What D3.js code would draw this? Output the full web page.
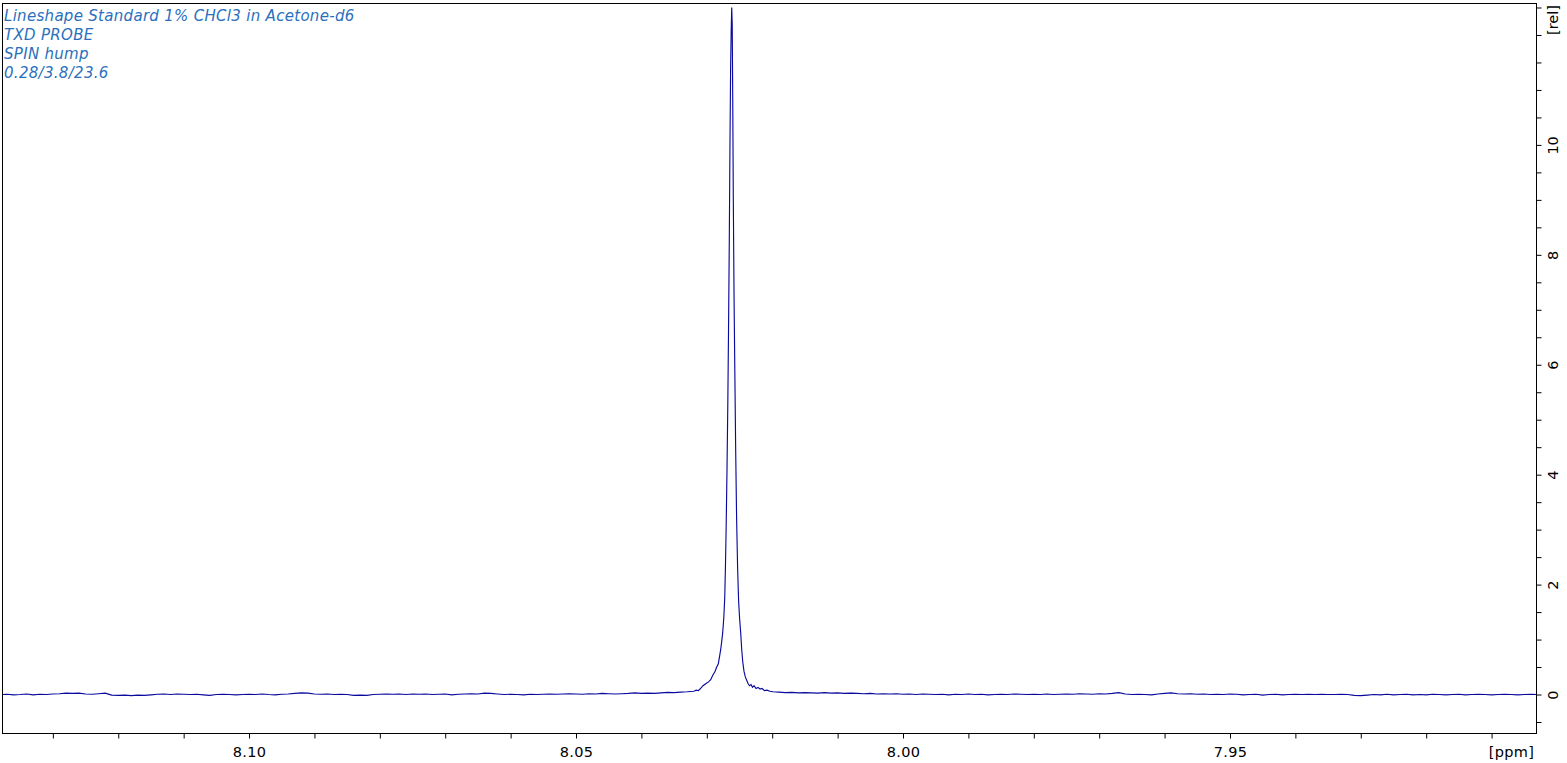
<!DOCTYPE html>
<html>
<head>
<meta charset="utf-8">
<script src="https://cdn.jsdelivr.net/npm/d3@7"></script>
<style>
  html, body { margin: 0; padding: 0; background: #ffffff; }
  svg { display: block; }
</style>
</head>
<body>
<div id="chart"></div>
<script>
// ---------------- data ----------------
const titleLines = [
  "Lineshape Standard 1% CHCl3 in Acetone-d6",
  "TXD PROBE",
  "SPIN hump",
  "0.28/3.8/23.6"
];

// chemical shift (ppm) of each spectrum point
const shift = [
  8.138, 8.137, 8.136, 8.135, 8.134, 8.133, 8.132, 8.131, 8.130, 8.129,
  8.128, 8.127, 8.126, 8.125, 8.124, 8.123, 8.122, 8.121, 8.120, 8.119,
  8.118, 8.117, 8.116, 8.115, 8.114, 8.113, 8.112, 8.111, 8.110, 8.109,
  8.108, 8.107, 8.106, 8.105, 8.104, 8.103, 8.102, 8.101, 8.100, 8.099,
  8.098, 8.097, 8.096, 8.095, 8.094, 8.093, 8.092, 8.091, 8.090, 8.089,
  8.088, 8.087, 8.086, 8.085, 8.084, 8.083, 8.082, 8.081, 8.080, 8.079,
  8.078, 8.077, 8.076, 8.075, 8.074, 8.073, 8.072, 8.071, 8.070, 8.069,
  8.068, 8.067, 8.066, 8.065, 8.064, 8.063, 8.062, 8.061, 8.060, 8.059,
  8.058, 8.057, 8.056, 8.055, 8.054, 8.053, 8.052, 8.051, 8.050, 8.049,
  8.048, 8.047, 8.046, 8.045, 8.044, 8.043, 8.042, 8.041, 8.040, 8.039,
  8.038, 8.037, 8.036, 8.035, 8.034, 8.033, 8.032,
  8.0316, 8.0313, 8.031040, 8.030581, 8.030122, 8.029740, 8.029404, 8.029052,
  8.028746, 8.028486, 8.028242, 8.028043, 8.027875, 8.027707, 8.027569, 8.027401,
  8.027263, 8.027156, 8.027049, 8.026912, 8.026789, 8.026682, 8.026560, 8.026468,
  8.026361, 8.026269, 8.026193, 8.026116, 8.026040, 8.025948, 8.025841, 8.025719,
  8.025581, 8.025444, 8.025291, 8.025138, 8.024985, 8.024817, 8.024664, 8.024511,
  8.024312, 8.024113, 8.023899, 8.023701, 8.023471, 8.023242, 8.023012, 8.022783,
  8.022477, 8.022172, 8.021866, 8.021560, 8.021178, 8.020795, 8.020337, 8.019878,
  8.019, 8.018, 8.017, 8.016, 8.015, 8.014, 8.013, 8.012, 8.011, 8.010,
  8.009, 8.008, 8.007, 8.006, 8.005, 8.004, 8.003, 8.002, 8.001, 8.000,
  7.999, 7.998, 7.997, 7.996, 7.995, 7.994, 7.993, 7.992, 7.991, 7.990,
  7.989, 7.988, 7.987, 7.986, 7.985, 7.984, 7.983, 7.982, 7.981, 7.980,
  7.979, 7.978, 7.977, 7.976, 7.975, 7.974, 7.973, 7.972, 7.971, 7.970,
  7.969, 7.968, 7.967, 7.966, 7.965, 7.964, 7.963, 7.962, 7.961, 7.960,
  7.959, 7.958, 7.957, 7.956, 7.955, 7.954, 7.953, 7.952, 7.951, 7.950,
  7.949, 7.948, 7.947, 7.946, 7.945, 7.944, 7.943, 7.942, 7.941, 7.940,
  7.939, 7.938, 7.937, 7.936, 7.935, 7.934, 7.933, 7.932, 7.931, 7.930,
  7.929, 7.928, 7.927, 7.926, 7.925, 7.924, 7.923, 7.922, 7.921, 7.920,
  7.919, 7.918, 7.917, 7.916, 7.915, 7.914, 7.913, 7.912, 7.911, 7.910,
  7.909, 7.908, 7.907, 7.906, 7.905, 7.904, 7.903
];

// relative intensity of each spectrum point
const intensity = [
  0.000, 0.005, -0.005, 0.000, 0.010, -0.005, 0.005, 0.000, 0.010, 0.015,
  0.025, 0.020, 0.025, 0.010, 0.005, 0.015, 0.025, -0.010, -0.015, -0.010,
  -0.020, -0.010, -0.015, -0.005, 0.005, 0.010, 0.000, 0.010, 0.005, 0.000,
  0.005, -0.005, -0.015, 0.000, 0.005, 0.000, -0.005, 0.000, 0.005, 0.000,
  0.010, 0.000, -0.005, 0.005, 0.010, 0.020, 0.030, 0.025, 0.010, 0.005,
  0.010, 0.000, 0.005, 0.000, -0.015, -0.010, -0.015, 0.000, 0.005, 0.010,
  0.005, 0.010, 0.000, 0.010, 0.005, 0.010, 0.000, 0.005, 0.010, -0.005,
  0.005, 0.010, 0.015, 0.010, 0.025, 0.020, 0.010, 0.000, 0.005, 0.000,
  -0.005, 0.005, 0.000, 0.005, 0.010, 0.005, 0.010, 0.015, 0.010, 0.005,
  0.015, 0.010, 0.020, 0.015, 0.010, 0.015, 0.020, 0.030, 0.020, 0.025,
  0.020, 0.030, 0.040, 0.035, 0.045, 0.050, 0.060,
  0.08, 0.07, 0.10, 0.16, 0.20, 0.23, 0.27, 0.36,
  0.42, 0.50, 0.56, 0.70, 0.82, 0.98, 1.13, 1.40,
  1.75, 2.30, 3.00, 4.10, 5.30, 6.60, 8.30, 9.90,
  11.40, 12.10, 12.50, 12.20, 10.90, 9.00, 7.30, 5.90,
  4.40, 3.20, 2.30, 1.70, 1.38, 1.12, 0.82, 0.60,
  0.42, 0.32, 0.26, 0.20, 0.16, 0.18, 0.13, 0.16,
  0.11, 0.13, 0.10, 0.11, 0.07, 0.08, 0.06, 0.05,
  0.045, 0.035, 0.040, 0.030, 0.035, 0.030, 0.025, 0.035, 0.025, 0.030,
  0.020, 0.025, 0.020, 0.015, 0.020, 0.010, 0.015, 0.010, 0.015, 0.005,
  0.010, 0.000, 0.010, 0.005, 0.000, 0.005, -0.005, 0.005, 0.000, 0.010,
  0.000, 0.005, -0.005, 0.000, 0.005, 0.000, 0.010, 0.005, 0.000, 0.005,
  0.000, 0.010, 0.000, 0.005, 0.010, 0.005, 0.015, 0.010, 0.005, 0.015,
  0.010, 0.020, 0.035, 0.010, 0.000, 0.005, 0.000, -0.005, 0.010, 0.020,
  0.030, 0.015, 0.010, 0.015, 0.005, 0.010, 0.000, 0.005, 0.000, 0.010,
  0.005, -0.005, 0.000, 0.005, -0.010, 0.000, 0.005, -0.005, 0.000, 0.005,
  0.000, 0.005, 0.000, 0.005, 0.000, 0.000, 0.005, 0.000, -0.015, -0.020,
  -0.010, 0.000, -0.005, 0.005, -0.005, 0.000, 0.005, -0.005, 0.000, -0.005,
  0.005, 0.000, -0.005, 0.000, 0.005, -0.005, 0.000, 0.005, 0.000, -0.005,
  0.000, 0.005, 0.000, -0.005, 0.000, 0.005, 0.000
];

// axis ticks and labels
const xTicks = [8.13, 8.12, 8.11, 8.10, 8.09, 8.08, 8.07, 8.06, 8.05, 8.04, 8.03,
                8.02, 8.01, 8.00, 7.99, 7.98, 7.97, 7.96, 7.95, 7.94, 7.93, 7.92, 7.91];
const xLabels = [8.10, 8.05, 8.00, 7.95];
const xUnit = "[ppm]";
const yTicks = [-0.5, 0, 0.5, 1, 1.5, 2, 2.5, 3, 3.5, 4, 4.5, 5, 5.5, 6, 6.5,
                7, 7.5, 8, 8.5, 9, 9.5, 10, 10.5, 11, 11.5, 12, 12.5];
const yLabels = [0, 2, 4, 6, 8, 10];
const yUnit = "[rel]";

// ---------------- layout ----------------
const W = 1567, H = 763;
const frame = { left: 2.5, top: 3.5, right: 1536.5, bottom: 733.5 };
const traceColor = "#0a0a9e";
const titleColor = "#2a70bd";
const fontFamily = "'DejaVu Sans', Verdana, sans-serif";

const svg = d3.select("#chart").append("svg")
  .attr("width", W).attr("height", H)
  .style("background", "#ffffff");

const x = d3.scaleLinear().domain([8.1377, 7.90313]).range([frame.left, frame.right]);
const y = d3.scaleLinear().domain([-0.70909, 12.57273]).range([frame.bottom, frame.top]);

svg.append("defs").append("clipPath").attr("id", "plotclip")
  .append("rect")
  .attr("x", frame.left).attr("y", frame.top)
  .attr("width", frame.right - frame.left)
  .attr("height", frame.bottom - frame.top);

// spectrum trace
const pts = shift.map((s, i) => [s, intensity[i]]);
const line = d3.line().x(d => x(d[0])).y(d => y(d[1]));
svg.append("path")
  .attr("clip-path", "url(#plotclip)")
  .attr("d", line(pts))
  .attr("fill", "none")
  .attr("stroke", traceColor)
  .attr("stroke-width", 1.15);

// frame
svg.append("rect")
  .attr("x", frame.left).attr("y", frame.top)
  .attr("width", frame.right - frame.left)
  .attr("height", frame.bottom - frame.top)
  .attr("fill", "none").attr("stroke", "#000").attr("stroke-width", 1);

// bottom axis
const fmtX = d3.format(".2f");
const xAxis = d3.axisBottom(x)
  .tickValues(xTicks)
  .tickSize(5)
  .tickFormat(d => xLabels.some(l => Math.abs(l - d) < 1e-9) ? fmtX(d) : "");
const gx = svg.append("g").attr("transform", `translate(0,${frame.bottom})`).call(xAxis);
gx.select(".domain").remove();
gx.selectAll(".tick line").attr("stroke", "#000").attr("stroke-width", 1);
gx.selectAll(".tick text")
  .attr("y", 23).attr("dy", null)
  .attr("fill", "#000")
  .style("font-family", fontFamily).style("font-size", "14.5px")
  .style("letter-spacing", "0.3px");
svg.append("text")
  .attr("x", 1511.5).attr("y", 756.5)
  .attr("text-anchor", "middle")
  .style("font-family", fontFamily).style("font-size", "14.5px")
  .style("letter-spacing", "0.3px")
  .attr("fill", "#000")
  .text(xUnit);

// right axis
const yAxis = d3.axisRight(y)
  .tickValues(yTicks)
  .tickSize(5)
  .tickFormat(d => yLabels.includes(d) ? String(d) : "");
const gy = svg.append("g").attr("transform", `translate(${frame.right},0)`).call(yAxis);
gy.select(".domain").remove();
gy.selectAll(".tick line").attr("stroke", "#000").attr("stroke-width", 1);
gy.selectAll(".tick text")
  .attr("x", null).attr("dy", null)
  .attr("text-anchor", "middle")
  .attr("transform", "translate(21,0) rotate(-90)")
  .attr("fill", "#000")
  .style("font-family", fontFamily).style("font-size", "14.5px");
svg.append("text")
  .attr("transform", `translate(${frame.right + 21},20) rotate(-90)`)
  .attr("text-anchor", "middle")
  .style("font-family", fontFamily).style("font-size", "14.5px")
  .attr("fill", "#000")
  .text(yUnit);

// title block
svg.append("g").selectAll("text")
  .data(titleLines)
  .join("text")
  .attr("x", 4)
  .attr("y", (d, i) => 20.5 + i * 19)
  .style("font-family", fontFamily)
  .style("font-style", "italic")
  .style("font-size", "15px")
  .style("letter-spacing", "0.3px")
  .attr("fill", titleColor)
  .text(d => d);
</script>
</body>
</html>
